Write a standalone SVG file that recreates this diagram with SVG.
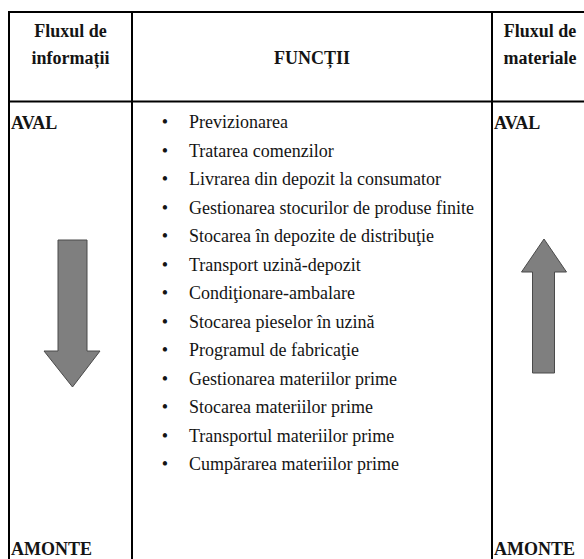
<svg xmlns="http://www.w3.org/2000/svg" width="584" height="559" viewBox="0 0 584 559">
<style>
.grid{stroke:#000;stroke-width:2;fill:none}
.h{font-family:'Liberation Serif','DejaVu Serif','Times New Roman',serif;font-weight:bold;font-size:18px;fill:#141414}
.t{font-family:'Liberation Serif','DejaVu Serif','Times New Roman',serif;font-size:18px;fill:#141414}
.b{font-family:'Liberation Serif','DejaVu Serif','Times New Roman',serif;font-size:18px;fill:#141414;text-anchor:middle}
.arrow{fill:#7f7f7f;stroke:#4a4a4a;stroke-width:1}
</style>
<rect width="584" height="559" fill="#fff"/>
<g id="table">
<line class="grid" x1="9" y1="12" x2="584" y2="12"/>
<line class="grid" x1="9" y1="101.5" x2="584" y2="101.5"/>
<line class="grid" x1="9" y1="11" x2="9" y2="559"/>
<line class="grid" x1="132" y1="11" x2="132" y2="559"/>
<line class="grid" x1="492" y1="11" x2="492" y2="559"/>
</g>
<g id="header-info">
<text class="h" x="70.5" y="37" text-anchor="middle">Fluxul de</text>
<text class="h" x="70.5" y="64" text-anchor="middle">informații</text>
</g>
<g id="header-functii">
<text class="h" x="312" y="64" text-anchor="middle">FUNCȚII</text>
</g>
<g id="header-materiale">
<text class="h" x="540" y="37" text-anchor="middle">Fluxul de</text>
<text class="h" x="540" y="64" text-anchor="middle">materiale</text>
</g>
<g id="left-labels">
<text class="h" x="11" y="129">AVAL</text>
<text class="h" x="11" y="555">AMONTE</text>
</g>
<g id="right-labels">
<text class="h" x="494" y="129">AVAL</text>
<text class="h" x="494" y="555">AMONTE</text>
</g>
<g id="functii-list">
<text class="b" x="165" y="128">•</text><text class="t" x="189" y="128">Previzionarea</text>
<text class="b" x="165" y="156.5">•</text><text class="t" x="189" y="156.5">Tratarea comenzilor</text>
<text class="b" x="165" y="185">•</text><text class="t" x="189" y="185">Livrarea din depozit la consumator</text>
<text class="b" x="165" y="213.5">•</text><text class="t" x="189" y="213.5">Gestionarea stocurilor de produse finite</text>
<text class="b" x="165" y="242">•</text><text class="t" x="189" y="242">Stocarea în depozite de distribuţie</text>
<text class="b" x="165" y="270.5">•</text><text class="t" x="189" y="270.5">Transport uzină-depozit</text>
<text class="b" x="165" y="299">•</text><text class="t" x="189" y="299">Condiţionare-ambalare</text>
<text class="b" x="165" y="327.5">•</text><text class="t" x="189" y="327.5">Stocarea pieselor în uzină</text>
<text class="b" x="165" y="356">•</text><text class="t" x="189" y="356">Programul de fabricaţie</text>
<text class="b" x="165" y="384.5">•</text><text class="t" x="189" y="384.5">Gestionarea materiilor prime</text>
<text class="b" x="165" y="413">•</text><text class="t" x="189" y="413">Stocarea materiilor prime</text>
<text class="b" x="165" y="441.5">•</text><text class="t" x="189" y="441.5">Transportul materiilor prime</text>
<text class="b" x="165" y="470">•</text><text class="t" x="189" y="470">Cumpărarea materiilor prime</text>
</g>
<g id="connectors">
<polygon id="arrow-down" class="arrow" points="58,240 87,240 87,351 100,351 72.5,387 44,351 58,351"/>
<polygon id="arrow-up" class="arrow" points="544,239 566.5,272 554.5,272 554.5,373 532.5,373 532.5,272 521.5,272"/>
</g>
</svg>
